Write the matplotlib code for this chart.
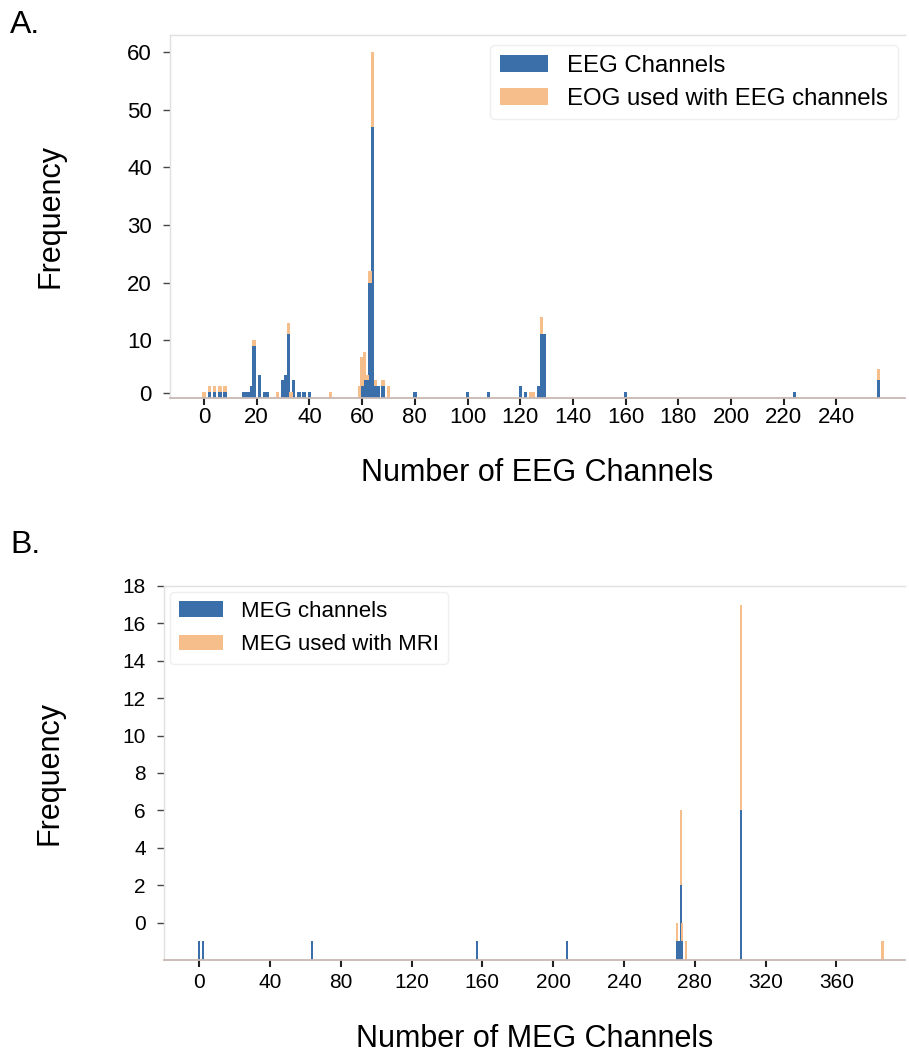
import matplotlib.pyplot as plt

plt.rcParams['font.family'] = ['Liberation Sans', 'DejaVu Sans']

# Panel A: EEG channel counts (stacked: EEG, then EOG on top)
eeg_channels = [0, 2, 4, 6, 8, 15, 16, 17, 18, 19, 21, 23, 24, 28, 30, 31, 32, 33, 34,
                36, 38, 40, 48, 59, 60, 61, 62, 63, 64, 65, 66, 68, 70, 80, 100, 108,
                120, 122, 124, 125, 127, 128, 129, 160, 224, 256]
eeg_counts = [0, 1, 1, 1, 1, 1, 1, 1, 2, 9, 4, 1, 1, 0, 3, 4, 11, 0, 3,
              1, 1, 1, 0, 0, 2, 3, 3, 20, 47, 2, 2, 2, 0, 1, 1, 1,
              2, 1, 0, 0, 2, 11, 11, 1, 1, 3]
eog_counts = [1, 1, 1, 1, 1, 0, 0, 0, 0, 1, 0, 0, 0, 1, 0, 0, 2, 1, 0,
              0, 0, 0, 1, 2, 5, 5, 1, 2, 13, 1, 0, 1, 2, 0, 0, 0,
              0, 0, 1, 1, 0, 3, 0, 0, 0, 2]

# Panel B: MEG channel counts (stacked: MEG, then MEG+MRI on top)
meg_channels = [0, 2, 64, 157, 208, 270, 271, 272, 273, 275, 306, 386]
meg_counts = [1, 1, 1, 1, 1, 1, 1, 4, 1, 0, 8, 0]
mri_counts = [0, 0, 0, 0, 0, 1, 0, 4, 1, 1, 11, 1]

a_xticks = list(range(0, 241, 20))
a_ytick_pos = [0.8, 10, 20, 30, 40, 50, 60]
a_ytick_labels = ['0', '10', '20', '30', '40', '50', '60']
b_xticks = list(range(0, 361, 40))
b_ytick_pos = [2, 4, 6, 8, 10, 12, 14, 16, 18, 20]
b_ytick_labels = ['0', '2', '4', '6', '8', '10', '12', '14', '16', '18']

blue = '#3a6faa'
orange = '#f6be8b'


def style_axes(ax, tick_size, xpad):
    for side in ['top', 'left']:
        ax.spines[side].set_color('#e0e0e0')
        ax.spines[side].set_linewidth(1.0)
    ax.spines['right'].set_visible(False)
    ax.spines['bottom'].set_color('#c9b8b3')
    ax.spines['bottom'].set_linewidth(1.3)
    ax.tick_params(axis='x', direction='out', length=5, width=1.5, color='#222222',
                   labelsize=tick_size, pad=xpad)
    ax.tick_params(axis='y', direction='out', length=5, width=1.0, color='#444444',
                   labelsize=tick_size, pad=8)


fig = plt.figure(figsize=(9.09, 10.56), dpi=100)

# ---- Panel A ----
ax1 = fig.add_axes([0.187, 0.6234, 0.8086, 0.3435])
ax1.bar(eeg_channels, eeg_counts, width=1.3, color=blue, label='EEG Channels')
ax1.bar(eeg_channels, eog_counts, width=1.3, bottom=eeg_counts, color=orange,
        label='EOG used with EEG channels')
ax1.set_xlim(-12.9, 266)
ax1.set_ylim(0, 63)
ax1.set_xticks(a_xticks)
ax1.set_yticks(a_ytick_pos)
ax1.set_yticklabels(a_ytick_labels)
style_axes(ax1, 16, 2)
ax1.set_xlabel('Number of EEG Channels', fontsize=22)
ax1.set_ylabel('Frequency', fontsize=22)
ax1.xaxis.set_label_coords(0.5, -0.2076)
ax1.xaxis.label.set_verticalalignment('center')
ax1.yaxis.set_label_coords(-0.163, 0.5)
ax1.yaxis.label.set_verticalalignment('center')
leg1 = ax1.legend(loc='upper right', bbox_to_anchor=(0.990, 0.972), borderaxespad=0,
                  fontsize=17.3, frameon=True, labelspacing=0.45)
leg1.get_frame().set_edgecolor('#ebebeb')

# ---- Panel B ----
ax2 = fig.add_axes([0.1804, 0.0909, 0.815, 0.3542])
ax2.bar(meg_channels, meg_counts, width=1.2, color=blue, label='MEG channels')
ax2.bar(meg_channels, mri_counts, width=1.2, bottom=meg_counts, color=orange,
        label='MEG used with MRI')
ax2.set_xlim(-19.8, 398.6)
ax2.set_ylim(0, 20)
ax2.set_xticks(b_xticks)
ax2.set_yticks(b_ytick_pos)
ax2.set_yticklabels(b_ytick_labels)
style_axes(ax2, 15, 4)
ax2.set_xlabel('Number of MEG Channels', fontsize=22)
ax2.set_ylabel('Frequency', fontsize=22)
ax2.xaxis.set_label_coords(0.5, -0.21)
ax2.xaxis.label.set_verticalalignment('center')
ax2.yaxis.set_label_coords(-0.154, 0.5)
ax2.yaxis.label.set_verticalalignment('center')
leg2 = ax2.legend(loc='upper left', bbox_to_anchor=(0.008, 0.984), borderaxespad=0,
                  fontsize=16, frameon=True, labelspacing=0.55)
leg2.get_frame().set_edgecolor('#ebebeb')

fig.text(0.011, 0.976, 'A.', fontsize=23, va='center', ha='left')
fig.text(0.011, 0.484, 'B.', fontsize=23, va='center', ha='left')

fig.savefig('out.png', dpi=100)
